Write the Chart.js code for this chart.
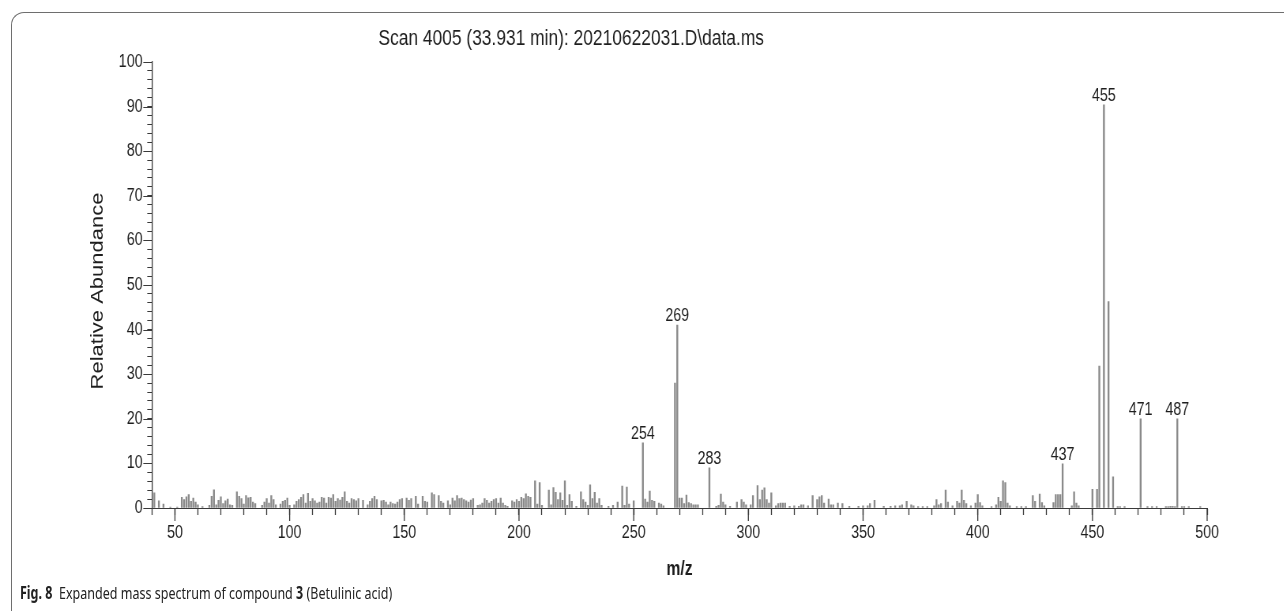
<!DOCTYPE html>
<html>
<head>
<meta charset="utf-8">
<script src="https://cdn.jsdelivr.net/npm/chart.js@4.4.1/dist/chart.umd.min.js"></script>
<style>
  html, body { margin: 0; padding: 0; background: #fff; width: 1284px; height: 611px; overflow: hidden; }
  .frame { position: absolute; left: 11px; top: 12px; width: 1320px; height: 640px;
    border-top: 1.5px solid #6e6e6e; border-left: 1.5px solid #6e6e6e; border-top-left-radius: 13px; }
  /* the scanned figure is squeezed sideways, so draw it wide and squash it */
  .squash { position: absolute; left: 0; top: 0; width: 1625px; height: 611px;
    transform: scaleX(0.79); transform-origin: 0 0; }
  .caption { position: absolute; left: 20px; top: 581px; font-family: "Noto Sans", sans-serif;
    font-size: 17px; color: #222; white-space: nowrap; transform-origin: 0 0; }
  .caption b { font-weight: 700; }
</style>
</head>
<body>
<div class="frame"></div>
<div class="squash"><canvas id="msChart" width="1625" height="611"></canvas></div>
<div class="caption" id="caption"><b>Fig. 8</b>&nbsp; Expanded mass spectrum of compound <b>3</b> (Betulinic acid)</div>
<script>
// spectrum values (m/z, relative abundance %)
const mzValues = [
  41, 43, 45, 48, 51, 53, 54, 55, 56, 57,
  58, 59, 60, 62, 65, 66, 67, 68, 69, 70,
  71, 72, 73, 74, 75, 77, 78, 79, 80, 81,
  82, 83, 84, 85, 88, 89, 90, 91, 92, 93,
  94, 96, 97, 98, 99, 100, 102, 103, 104, 105,
  106, 107, 108, 109, 110, 111, 112, 113, 114, 115,
  116, 117, 118, 119, 120, 121, 122, 123, 124, 125,
  126, 127, 128, 129, 130, 132, 134, 135, 136, 137,
  138, 140, 141, 142, 143, 144, 145, 146, 147, 148,
  149, 151, 152, 153, 155, 156, 158, 159, 160, 162,
  163, 165, 166, 167, 169, 170, 171, 172, 173, 174,
  175, 176, 177, 178, 179, 180, 182, 183, 184, 185,
  186, 187, 188, 189, 190, 191, 192, 193, 194, 195,
  197, 198, 199, 200, 201, 202, 203, 204, 205, 207,
  208, 209, 210, 213, 214, 215, 216, 217, 218, 219,
  220, 221, 222, 223, 225, 227, 228, 229, 230, 231,
  232, 233, 234, 235, 236, 239, 241, 243, 245, 246,
  247, 248, 250, 254, 255, 256, 257, 258, 259, 261,
  262, 263, 268, 269, 270, 271, 272, 273, 274, 275,
  276, 277, 278, 283, 286, 287, 288, 289, 290, 292,
  295, 297, 298, 299, 301, 302, 304, 305, 306, 307,
  308, 309, 310, 312, 313, 314, 315, 316, 318, 320,
  322, 323, 324, 326, 328, 330, 331, 332, 333, 335,
  336, 337, 339, 341, 344, 348, 350, 352, 353, 355,
  359, 362, 364, 366, 367, 369, 371, 372, 374, 376,
  378, 381, 382, 383, 384, 386, 387, 389, 391, 392,
  393, 394, 395, 397, 399, 400, 401, 402, 406, 408,
  409, 410, 411, 412, 413, 414, 417, 419, 421, 424,
  425, 427, 428, 429, 433, 434, 435, 436, 437, 441,
  442, 443, 444, 450, 452, 453, 455, 457, 459, 461,
  462, 464, 471, 474, 476, 478, 482, 483, 484, 485,
  486, 487, 489, 490, 492, 497
];
const abundance = [
  3.4, 1.6, 0.9, 0.2, 0.2, 2.4, 1.9, 2.5, 3.0, 1.5,
  2.2, 1.3, 0.7, 0.3, 0.6, 2.6, 4.1, 0.7, 1.7, 2.5,
  1.0, 1.6, 2.0, 0.7, 0.6, 3.6, 2.6, 2.1, 0.9, 2.8,
  2.3, 2.4, 1.3, 1.0, 0.6, 1.3, 2.1, 1.1, 2.8, 1.9,
  0.7, 0.9, 1.5, 1.7, 2.2, 0.6, 0.7, 1.5, 1.9, 2.4,
  3.0, 1.1, 3.3, 1.5, 2.1, 1.6, 1.1, 1.3, 2.4, 2.2,
  1.1, 2.4, 2.2, 3.0, 1.5, 2.1, 1.8, 2.4, 3.6, 1.5,
  1.1, 2.1, 1.9, 1.6, 2.1, 1.7, 0.7, 1.5, 2.1, 2.6,
  1.9, 1.6, 1.7, 1.3, 0.7, 1.3, 1.0, 0.9, 1.3, 1.9,
  2.1, 2.2, 1.7, 2.1, 2.6, 0.9, 2.6, 1.5, 1.3, 3.4,
  3.0, 2.8, 1.5, 1.1, 1.6, 0.7, 2.2, 1.6, 2.8, 2.1,
  2.2, 1.9, 1.6, 1.3, 1.8, 2.1, 0.6, 0.7, 1.1, 2.1,
  1.7, 1.1, 1.5, 1.9, 2.1, 1.1, 2.2, 1.1, 0.6, 0.4,
  1.6, 1.3, 1.9, 1.5, 2.4, 2.1, 3.2, 2.6, 2.4, 6.1,
  0.9, 5.7, 0.6, 4.0, 0.7, 4.6, 3.5, 1.9, 3.4, 1.7,
  6.1, 0.6, 3.0, 1.5, 0.4, 3.6, 1.9, 1.3, 0.6, 5.2,
  2.1, 3.5, 1.1, 2.1, 0.6, 0.4, 0.6, 1.3, 4.9, 0.6,
  4.7, 0.9, 1.6, 14.6, 2.0, 1.3, 3.8, 1.7, 1.5, 1.1,
  0.9, 0.5, 28.0, 41.0, 2.2, 2.2, 1.0, 2.9, 1.2, 1.0,
  0.7, 0.7, 0.7, 9.0, 0.4, 0.6, 3.1, 1.3, 0.7, 0.4,
  1.3, 1.9, 1.3, 0.7, 0.7, 2.8, 5.0, 1.9, 4.0, 4.5,
  1.9, 1.1, 3.4, 0.5, 1.0, 1.1, 1.1, 1.1, 0.4, 0.5,
  0.4, 0.7, 0.7, 0.5, 2.8, 1.9, 2.5, 2.8, 1.1, 2.0,
  0.7, 0.7, 1.1, 1.0, 0.4, 0.4, 0.5, 0.5, 1.0, 1.7,
  0.4, 0.4, 0.5, 0.5, 0.7, 1.5, 0.7, 0.5, 0.3, 0.3,
  0.3, 0.5, 1.9, 0.7, 1.0, 4.0, 1.3, 0.5, 1.5, 1.1,
  4.0, 1.7, 1.0, 0.5, 1.1, 3.0, 1.2, 0.5, 0.3, 0.7,
  2.4, 1.5, 6.1, 5.7, 1.1, 0.5, 0.3, 0.3, 0.3, 2.8,
  1.5, 3.1, 1.2, 0.5, 1.2, 3.0, 3.0, 3.0, 9.9, 0.5,
  3.6, 1.1, 0.5, 4.2, 4.2, 31.8, 90.4, 46.3, 7.0, 0.3,
  0.3, 0.3, 20.0, 0.3, 0.3, 0.3, 0.3, 0.3, 0.4, 0.4,
  0.3, 20.0, 0.3, 0.3, 0.3, 0.3
];
const peakLabels = [254, 269, 283, 437, 455, 471, 487];
const xRange = [40, 500];
const yRange = [0, 100];

const titleText = "Scan 4005 (33.931 min): 20210622031.D\\data.ms";
const textColor = "#1e1e1e";
const axisColor = "#3a3a3a";
const fontName = '"Liberation Sans", Arial, sans-serif';

// Titles, peak labels and the longer major ticks
const decorPlugin = {
  id: "decor",
  afterDraw: function (chart) {
    const ctx = chart.ctx;
    const xs = chart.scales.x;
    const ys = chart.scales.y;
    const area = chart.chartArea;
    ctx.save();

    // major ticks
    ctx.strokeStyle = axisColor;
    ctx.lineWidth = 1.3;
    for (let v = 50; v <= xRange[1]; v += 50) {
      const px = xs.getPixelForValue(v);
      ctx.beginPath();
      ctx.moveTo(px, area.bottom);
      ctx.lineTo(px, area.bottom + 13);
      ctx.stroke();
    }
    ctx.lineWidth = 1;
    for (let v = 0; v <= yRange[1]; v += 10) {
      const py = Math.round(ys.getPixelForValue(v)) + 0.5;
      ctx.beginPath();
      ctx.moveTo(area.left, py);
      ctx.lineTo(area.left - 11, py);
      ctx.stroke();
    }

    ctx.fillStyle = textColor;

    // peak labels
    ctx.font = "18px " + fontName;
    ctx.textAlign = "center";
    ctx.textBaseline = "alphabetic";
    peakLabels.forEach(function (m) {
      const i = mzValues.indexOf(m);
      if (i < 0) return;
      ctx.fillText(String(m), xs.getPixelForValue(m), ys.getPixelForValue(abundance[i]) - 4);
    });

    // title
    ctx.font = "22px " + fontName;
    ctx.fillText(titleText, 723, 45);

    // x axis title
    ctx.font = "bold 20px " + fontName;
    ctx.fillText("m/z", (area.left + area.right) / 2, 575);

    // y axis title
    ctx.save();
    ctx.translate(130, (area.top + area.bottom) / 2 + 6);
    ctx.rotate(-Math.PI / 2);
    ctx.font = "22px " + fontName;
    ctx.textAlign = "center";
    ctx.fillText("Relative Abundance", 0, 0);
    ctx.restore();

    ctx.restore();
  },
};

let ctx = document.getElementById("msChart").getContext("2d");
let points = mzValues.map(function (m, i) {
  return { x: m, y: abundance[i] };
});

let msChart = new Chart(ctx, {
  type: "bar",
  data: {
    datasets: [
      {
        data: points,
        backgroundColor: "#8a8a8a",
        borderWidth: 0,
        barThickness: 1.7,
      },
    ],
  },
  options: {
    responsive: false,
    animation: false,
    events: [],
    layout: { padding: { top: 62, right: 97, bottom: 0, left: 0 } },
    plugins: { legend: { display: false }, tooltip: { enabled: false } },
    scales: {
      x: {
        type: "linear",
        min: xRange[0],
        max: xRange[1],
        offset: false,
        grid: { offset: false, drawOnChartArea: false, drawTicks: true, tickLength: 7, tickColor: axisColor, tickWidth: 1.3 },
        border: { display: true, color: axisColor, width: 1 },
        ticks: {
          stepSize: 10,
          autoSkip: false,
          maxRotation: 0,
          padding: 7,
          color: textColor,
          font: { family: fontName, size: 18 },
          callback: function (v) {
            return v % 50 === 0 ? String(v) : "";
          },
        },
        afterFit: function (scale) {
          scale.height = 103;
        },
      },
      y: {
        min: yRange[0],
        max: yRange[1],
        grid: { drawOnChartArea: false, drawTicks: true, tickLength: 6, tickColor: axisColor, tickWidth: 1 },
        border: { display: true, color: axisColor, width: 1.3 },
        ticks: {
          stepSize: 2,
          autoSkip: false,
          padding: 6,
          color: textColor,
          font: { family: fontName, size: 18 },
          callback: function (v) {
            return v % 10 === 0 ? String(v) : "";
          },
        },
        afterFit: function (scale) {
          scale.width = 192.4;
        },
      },
    },
  },
  plugins: [decorPlugin],
});

// squeeze the caption to the width it has in the figure
let caption = document.getElementById("caption");
caption.style.transform = "scaleX(" + (372 / caption.offsetWidth) + ")";
</script>
</body>
</html>
